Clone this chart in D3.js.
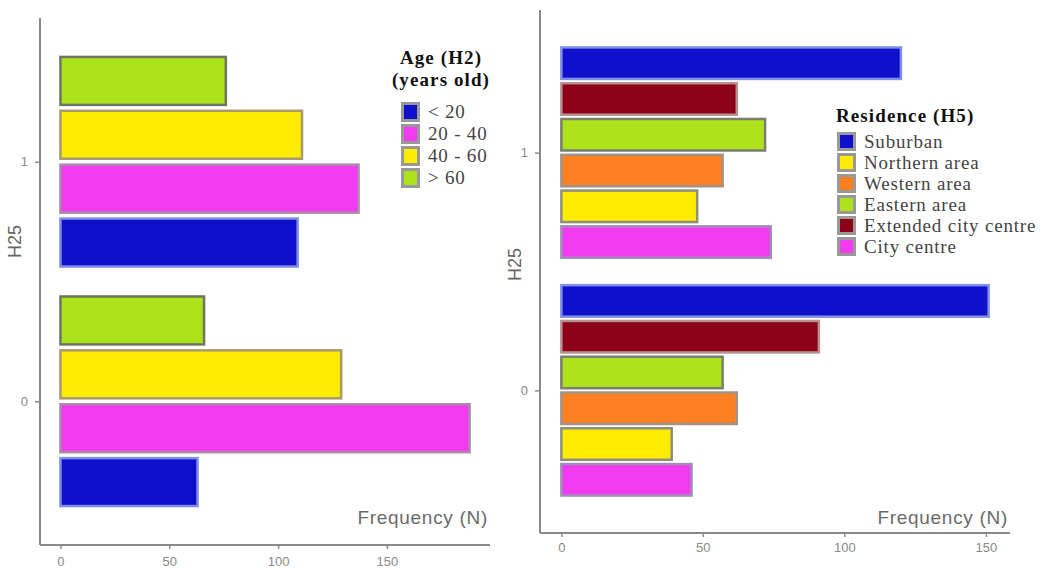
<!DOCTYPE html>
<html>
<head>
<meta charset="utf-8">
<script src="https://cdn.jsdelivr.net/npm/d3@7"></script>
<style>
  body { margin: 0; background: #fff; }
  svg { display: block; }
</style>
</head>
<body>
<svg width="1040" height="571"></svg>
<script>
// data
const h25 = ['1', '0'];

const ageCats = ['> 60', '40 - 60', '20 - 40', '< 20'];      // bar order, top to bottom
const ageH1 = [76, 111, 137, 109];
const ageH0 = [66, 129, 188, 63];
const ageLegend = ['< 20', '20 - 40', '40 - 60', '> 60'];

const resCats = ['Suburban', 'Extended city centre', 'Eastern area', 'Western area', 'Northern area', 'City centre'];
const resH1 = [120, 62, 72, 57, 48, 74];
const resH0 = [151, 91, 57, 62, 39, 46];
const resLegend = ['Suburban', 'Northern area', 'Western area', 'Eastern area', 'Extended city centre', 'City centre'];

const xTicks = [0, 50, 100, 150];

// colours
const fills = {
  '< 20': '#1010cc', '20 - 40': '#f23af0', '40 - 60': '#ffec00', '> 60': '#ade31c',
  'Suburban': '#1010cc', 'Northern area': '#ffec00', 'Western area': '#ff8020',
  'Eastern area': '#ade31c', 'Extended city centre': '#8c0018', 'City centre': '#f23af0'
};
const strokes = {
  '< 20': '#7f8ee6', '20 - 40': '#a98aa9', '40 - 60': '#a89a6a', '> 60': '#6f7560',
  'Suburban': '#7f8ee6', 'Northern area': '#8f8f7f', 'Western area': '#a0948a',
  'Eastern area': '#7a7f70', 'Extended city centre': '#b89090', 'City centre': '#9f8fb8'
};

const svg = d3.select('svg');

let drawPanel = (p) => {
  const g = svg.append('g');
  const all = p.v1.concat(p.v0);
  const maxV = d3.max(all);

  const x = d3.scaleLinear()
    .domain([-maxV * 0.05, maxV * 1.05])
    .range([p.left, p.right]);

  const y = d3.scalePoint()
    .domain(h25)
    .range([p.top, p.bottom])
    .padding(0.6);

  const half = y.step() * p.groupFrac / 2;
  const inner = d3.scaleBand()
    .domain(p.cats)
    .range([-half, half])
    .paddingInner(p.gap);

  const rows = [];
  p.cats.forEach((c, i) => {
    rows.push({ grp: '1', cat: c, val: p.v1[i] });
    rows.push({ grp: '0', cat: c, val: p.v0[i] });
  });

  g.selectAll('rect.bar')
    .data(rows)
    .enter()
    .append('rect')
    .attr('class', 'bar')
    .attr('x', x(0))
    .attr('y', d => y(d.grp) + inner(d.cat))
    .attr('width', d => x(d.val) - x(0))
    .attr('height', inner.bandwidth())
    .attr('fill', d => fills[d.cat])
    .attr('stroke', d => strokes[d.cat])
    .attr('stroke-width', 2.5);

  // axes
  const xAxis = d3.axisBottom(x).tickValues(xTicks).tickSize(4).tickPadding(p.xTickPad);
  const gx = g.append('g')
    .attr('transform', `translate(0, ${p.bottom})`)
    .call(xAxis);
  gx.select('.domain').attr('stroke', '#8a8a8a').attr('stroke-width', 2).attr('d', `M${p.left},0H${p.right}`);
  gx.selectAll('.tick line').attr('stroke', '#8a8a8a').attr('stroke-width', 1.5);
  gx.selectAll('text').attr('fill', '#8a8a8a').style('font-size', '13px').style('font-family', 'Liberation Sans, Arial, sans-serif');

  const yAxis = d3.axisLeft(y).tickSize(5).tickPadding(7);
  const gy = g.append('g')
    .attr('transform', `translate(${p.left}, 0)`)
    .call(yAxis);
  gy.select('.domain').attr('stroke', '#8a8a8a').attr('stroke-width', 2).attr('d', `M0,${p.top}V${p.bottom}`);
  gy.selectAll('.tick line').attr('stroke', '#8a8a8a').attr('stroke-width', 1.5);
  gy.selectAll('text').attr('fill', '#8a8a8a').style('font-size', '13px').style('font-family', 'Liberation Sans, Arial, sans-serif');

  g.append('text')
    .attr('transform', `translate(${p.left - 19}, ${(p.top + p.bottom) / 2 + p.yLabShift}) rotate(-90)`)
    .attr('text-anchor', 'middle')
    .attr('fill', '#666')
    .style('font-size', '18px')
    .style('font-family', 'Liberation Sans, Arial, sans-serif')
    .text('H25');

  g.append('text')
    .attr('x', p.right - 2)
    .attr('y', p.bottom - p.freqUp)
    .attr('text-anchor', 'end')
    .attr('fill', '#6a6a6a')
    .style('font-size', '19px')
    .style('letter-spacing', '0.7px')
    .style('font-family', 'Liberation Sans, Arial, sans-serif')
    .text('Frequency (N)');

  // legend
  const lg = g.append('g').attr('transform', `translate(${p.legX}, ${p.legY})`);
  p.title.forEach((t, i) => {
    lg.append('text')
      .attr('x', p.titleX)
      .attr('y', p.titleY + i * 22)
      .attr('text-anchor', p.titleAnchor)
      .attr('fill', '#111')
      .style('font-size', '19px')
      .style('font-weight', 'bold')
      .style('letter-spacing', '1.1px')
      .style('font-family', 'Liberation Serif, Times New Roman, serif')
      .text(t);
  });
  const keyH = p.keyH;
  const items = lg.selectAll('g.key')
    .data(p.legend)
    .enter()
    .append('g')
    .attr('class', 'key')
    .attr('transform', (d, i) => `translate(0, ${i * keyH})`);
  items.append('rect')
    .attr('x', 1).attr('y', 1)
    .attr('width', 19).attr('height', keyH - 2)
    .attr('fill', '#999');
  items.append('rect')
    .attr('x', 4).attr('y', 4)
    .attr('width', 13).attr('height', keyH - 8)
    .attr('fill', d => fills[d]);
  items.append('text')
    .attr('x', 28)
    .attr('y', keyH / 2 + 6)
    .attr('fill', '#444')
    .style('font-size', '19px')
    .style('letter-spacing', '0.8px')
    .style('font-family', 'Liberation Serif, Times New Roman, serif')
    .text(d => d);
};

drawPanel({
  left: 40, right: 490, top: 18, bottom: 545,
  cats: ageCats, v1: ageH1, v0: ageH0, legend: ageLegend,
  groupFrac: 0.875, gap: 0.11, yLabShift: -40, xTickPad: 8, freqUp: 21,
  legX: 400, legY: 101, keyH: 22,
  title: ['Age (H2)', '(years old)'], titleX: 41, titleY: -37, titleAnchor: 'middle'
});

drawPanel({
  left: 540, right: 1010, top: 10, bottom: 533,
  cats: resCats, v1: resH1, v0: resH0, legend: resLegend,
  groupFrac: 0.885, gap: 0.12, yLabShift: -7, xTickPad: 6, freqUp: 9,
  legX: 836, legY: 131, keyH: 21,
  title: ['Residence (H5)'], titleX: 0, titleY: -9, titleAnchor: 'start'
});
</script>
</body>
</html>
